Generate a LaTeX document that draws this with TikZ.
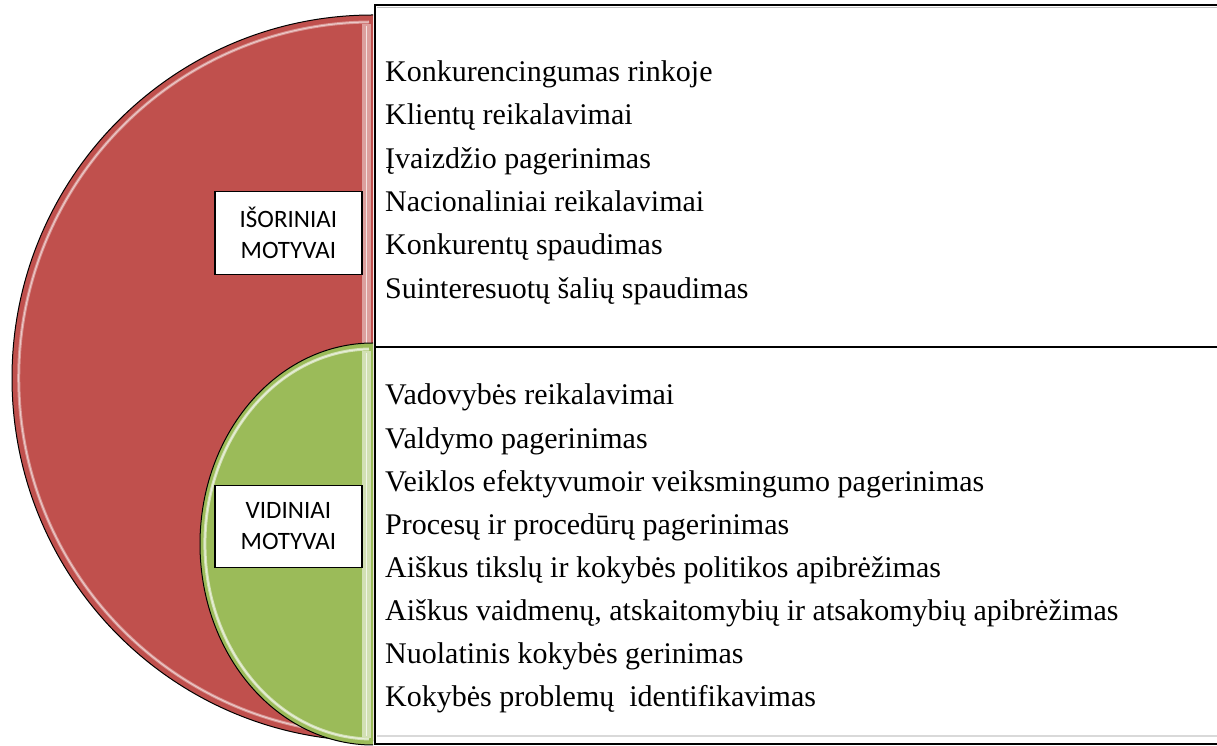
\documentclass[tikz,border=0pt]{standalone}
\usepackage{fontspec}
\setmainfont{Liberation Serif}
\newfontfamily\lblfont{Carlito}
\definecolor{redfill}{HTML}{C0504D}
\definecolor{greenfill}{HTML}{9BBB59}
\begin{document}
\begin{tikzpicture}[x=1pt,y=1pt,
  item/.style={anchor=base west, inner sep=0pt, font=\fontsize{30}{36}\selectfont},
  lbl/.style={draw=black, line width=1.3pt, fill=white, minimum width=147pt, minimum height=82.6pt, align=center, inner sep=0pt, font=\lblfont\fontsize{25}{31}\selectfont},
  outline/.style={draw=black, line width=1pt},
  boxline/.style={draw=black, line width=1.5pt}]
\useasboundingbox (0,0) rectangle (1217,746);
% ---- red half ellipse (external)
\fill[redfill] (373,731) arc[start angle=90,end angle=270,x radius=361,y radius=363] -- cycle;
\draw[redfill!60!white, line width=3pt] (369,724) arc[start angle=90.6,end angle=269.4,x radius=354,y radius=356];
\draw[white, opacity=0.5, line width=1pt] (369,724) arc[start angle=90.6,end angle=269.4,x radius=354,y radius=356];
\fill[redfill!55!white] (362,722) rectangle (371,12);
\draw[white, opacity=0.7, line width=1.2pt] (366.5,720) -- (366.5,14);
\draw[outline] (373,731) arc[start angle=90,end angle=270,x radius=361,y radius=363];
% ---- green half ellipse (internal)
\fill[greenfill] (373,403) arc[start angle=90,end angle=270,x radius=173,y radius=201] -- cycle;
\draw[greenfill!45!white, line width=3pt] (369,397) arc[start angle=91,end angle=269,x radius=167,y radius=195];
\draw[white, opacity=0.5, line width=1pt] (369,397) arc[start angle=91,end angle=269,x radius=167,y radius=195];
\fill[greenfill!45!white] (362,395) rectangle (371,8);
\draw[white, opacity=0.7, line width=1.2pt] (366.5,393) -- (366.5,10);
\draw[outline] (373,403) arc[start angle=90,end angle=270,x radius=173,y radius=201];
% ---- labels
\node[lbl] (ext) at (288.4,513) {IŠORINIAI\\MOTYVAI};
\node[lbl] (int) at (288.4,219.5) {VIDINIAI\\MOTYVAI};
% ---- text boxes
\draw[black!25, line width=1.5pt] (377,738.5) -- (1217,738.5);
\draw[boxline] (1217,741) -- (375,741) -- (375,2) -- (1217,2);
\draw[boxline] (375,399) -- (1217,399);
\draw[black!15, line width=1.2pt] (377,10) -- (1217,10);
% ---- external list
\node[item] (e1) at (385,664.3) {Konkurencingumas rinkoje};
\node[item] (e2) at (385,621.0) {Klientų reikalavimai};
\node[item] (e3) at (385,577.7) {Įvaizdžio pagerinimas};
\node[item] (e4) at (385,534.4) {Nacionaliniai reikalavimai};
\node[item] (e5) at (385,491.1) {Konkurentų spaudimas};
\node[item] (e6) at (385,447.8) {Suinteresuotų šalių spaudimas};
% ---- internal list
\node[item] (v1) at (385,341.0) {Vadovybės reikalavimai};
\node[item] (v2) at (385,297.9) {Valdymo pagerinimas};
\node[item] (v3) at (385,254.8) {Veiklos efektyvumoir veiksmingumo pagerinimas};
\node[item] (v4) at (385,211.7) {Procesų ir procedūrų pagerinimas};
\node[item] (v5) at (385,168.6) {Aiškus tikslų ir kokybės politikos apibrėžimas};
\node[item] (v6) at (385,125.5) {Aiškus vaidmenų, atskaitomybių ir atsakomybių apibrėžimas};
\node[item] (v7) at (385,82.4) {Nuolatinis kokybės gerinimas};
\node[item] (v8) at (385,39.3) {Kokybės problemų\ \ identifikavimas};
\end{tikzpicture}
\end{document}
